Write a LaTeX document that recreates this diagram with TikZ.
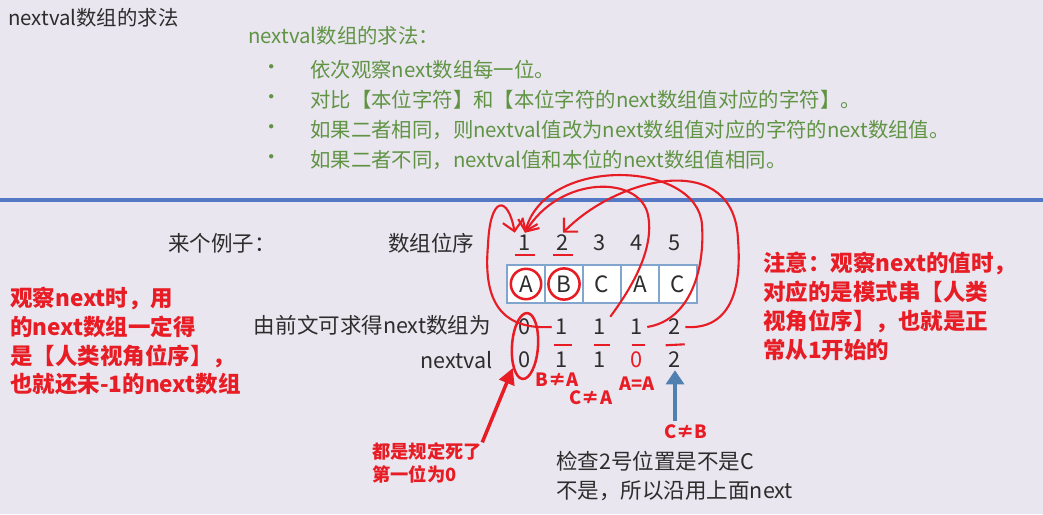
\documentclass[tikz,border=0pt]{standalone}
\usepackage{fontspec}
\setmainfont{Noto Sans CJK SC}
\usepackage{xcolor}
\usepackage{tikz}
\usetikzlibrary{arrows.meta,shapes.geometric}
\definecolor{slidebg}{RGB}{233,230,239}
\definecolor{slidegreen}{RGB}{96,148,68}
\definecolor{inkred}{RGB}{232,28,36}
\definecolor{rulerblue}{RGB}{84,120,196}
\definecolor{cellblue}{RGB}{130,165,205}
\definecolor{arrowblue}{RGB}{80,128,176}
\definecolor{textgray}{RGB}{45,45,45}

\begin{document}
\begin{tikzpicture}[x=0.025cm, y=-0.025cm, every node/.style={inner sep=0pt, text=textgray},
  green/.style={anchor=west, text=slidegreen, font=\fontsize{14.5}{17}\selectfont},
  lbl/.style={font=\fontsize{15.3}{20}\selectfont},
  idx/.style={minimum width=0.5cm, minimum height=0.5cm, font=\fontsize{15.5}{17}\selectfont},
  cell/.style={draw=cellblue, fill=white, line width=1pt, minimum width=0.95cm, minimum height=0.95cm, font=\fontsize{16}{18}\selectfont},
  note/.style={anchor=west, align=left, text=inkred, font=\bfseries\fontsize{16}{20.6}\selectfont},
  tag/.style={text=inkred, font=\bfseries\fontsize{13}{16.4}\selectfont},
  ring/.style={draw=inkred, line width=1.8pt},
  curl/.style={draw=inkred, line width=1.5pt, -{Straight Barb[length=2.5mm,width=5mm]}},
  uline/.style={draw=inkred, line width=1.5pt}]
\path[use as bounding box, fill=slidebg] (0,0) rectangle (1043,514);
\draw[rulerblue, line width=2.5pt] (0,200) -- (1043,200);

\node[anchor=west, font=\fontsize{14.5}{17}\selectfont] (title) at (8,18) {nextval数组的求法};
\node[green] (rules) at (248,36) {nextval数组的求法：};
\node[green] (b1) at (261,70) {•};
\node[green] (b2) at (261,100) {•};
\node[green] (b3) at (261,130) {•};
\node[green] (b4) at (261,160) {•};
\node[green] (r1) at (310,70) {依次观察next数组每一位。};
\node[green] (r2) at (310,100) {对比【本位字符】和【本位字符的next数组值对应的字符】。};
\node[green] (r3) at (310,130) {如果二者相同，则nextval值改为next数组值对应的字符的next数组值。};
\node[green] (r4) at (310,160) {如果二者不同，nextval值和本位的next数组值相同。};

\node[lbl, anchor=west] (example) at (168,243) {来个例子：};
\node[lbl, anchor=west] (order) at (388,243) {数组位序};
\node[lbl, anchor=east] (nextrow) at (491,325) {由前文可求得next数组为};
\node[lbl, anchor=east] (valrow) at (493,360) {nextval};

\node[idx] (p1) at (525,243) {1};
\node[idx] (p2) at (563,243) {2};
\node[idx] (p3) at (600,243) {3};
\node[idx] (p4) at (637,243) {4};
\node[idx] (p5) at (675,243) {5};

\node[cell] (c1) at (526,284) {A};
\node[cell] (c2) at (564,284) {B};
\node[cell] (c3) at (602,284) {C};
\node[cell] (c4) at (640,284) {A};
\node[cell] (c5) at (678,284) {C};

\node[idx] (n1) at (525,327) {0};
\node[idx] (n2) at (562,327) {1};
\node[idx] (n3) at (600,327) {1};
\node[idx] (n4) at (637,327) {1};
\node[idx] (n5) at (675,327) {2};

\node[idx] (v1) at (525,360) {0};
\node[idx] (v2) at (562,360) {1};
\node[idx] (v3) at (600,360) {1};
\node[idx, text=inkred] (v4) at (637,360) {0};
\node[idx] (v5) at (675,360) {2};

\node[ring, circle, minimum size=0.76cm] (ringa) at (c1) {};
\node[ring, circle, minimum size=0.78cm] (ringb) at (c2) {};
\node[ring, ellipse, minimum width=0.65cm, minimum height=1.65cm, rotate=-4] (zero) at (525,346) {};

\draw[uline] (p1.south west) ++(0,2) -- ++(20,0);
\draw[uline] (p2.south west) ++(0,2) -- ++(20,0);
\draw[uline] (n2.south west) ++(2,8) -- ++(18,0);
\draw[uline] (n3.south west) ++(4,8) -- ++(16,0);
\draw[uline] (n4.south west) ++(5,8) -- ++(13,0);
\draw[uline] (n5.south west) ++(1,8) -- ++(19,-1);

\draw[curl] (n2.west) .. controls (500,330) and (483,300) .. (488,245) .. controls (490,195) and (508,195) .. (p1.north west);
\draw[curl] (n3.north east) .. controls (630,290) and (655,250) .. (648,215) .. controls (640,175) and (560,175) .. (p1.north);
\draw[curl] (n4.east) .. controls (690,320) and (705,270) .. (702,225) .. controls (698,160) and (545,155) .. (p1.north);
\draw[curl] (n5.east) .. controls (730,330) and (742,290) .. (738,240) .. controls (735,150) and (620,175) .. (p2.north);

\node[tag] (bnea) at (557,380) {B≠A};
\node[tag] (cnea) at (591,398) {C≠A};
\node[tag] (aeqa) at (637,384) {A=A};
\node[tag] (cneb) at (686,432) {C≠B};
\draw[arrowblue, line width=2.2pt, -{Triangle[length=3.5mm,width=4.5mm]}] (v5 |- cneb.north) ++(0,-4) -- (v5.south);

\node[tag, anchor=west, align=left] (rule) at (372,463) {都是规定死了\\第一位为0};
\draw[inkred, line width=2.5pt, -{Triangle[length=4mm,width=4mm]}] (rule.north east) -- (zero.245);

\node[note] (leftnote) at (10,341) {观察next时，用\\的next数组一定得\\是【人类视角位序】，\\也就还未-1的next数组};
\node[note] (rightnote) at (763,306) {注意：观察next的值时，\\对应的是模式串【人类\\视角位序】，也就是正\\常从1开始的};
\node[lbl, anchor=west, align=left] (check) at (556,476) {检查2号位置是不是C\\不是，所以沿用上面next};
\end{tikzpicture}
\end{document}
